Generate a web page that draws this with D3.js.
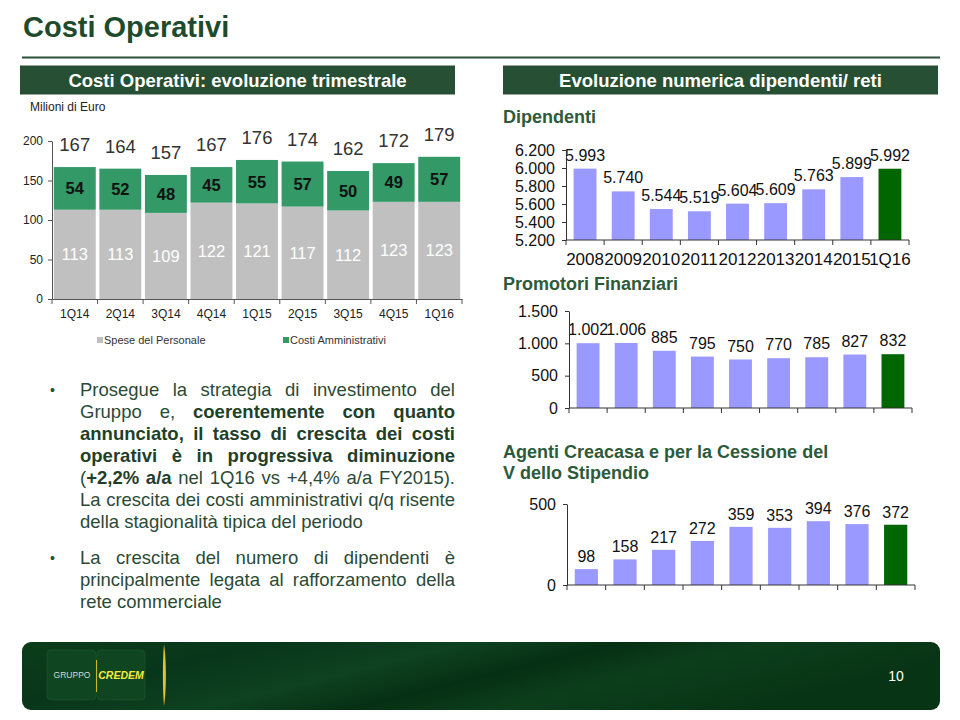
<!DOCTYPE html>
<html><head><meta charset="utf-8">
<script src="https://cdn.jsdelivr.net/npm/d3@7"></script>
<style>
body{margin:0;background:#fff}
svg{display:block;font-family:'Liberation Sans',Arial,Helvetica,sans-serif}
</style>
</head><body>
<svg id="c" width="960" height="720"></svg>
<script>
// ---------- DATA ----------
const quarters = ['1Q14','2Q14','3Q14','4Q14','1Q15','2Q15','3Q15','4Q15','1Q16'];
const spesePersonale = [113,113,109,122,121,117,112,123,123];
const costiAmministrativi = [54,52,48,45,55,57,50,49,57];
const totaliTrimestre = [167,164,157,167,176,174,162,172,179];
const leftTicks = [0,50,100,150,200];

const periodi = ['2008','2009','2010','2011','2012','2013','2014','2015','1Q16'];
const dipendenti = [5993,5740,5544,5519,5604,5609,5763,5899,5992];
const dipendentiTicks = [5200,5400,5600,5800,6000,6200];
const promotori = [1002,1006,885,795,750,770,785,827,832];
const promotoriTicks = [0,500,1000,1500];
const agenti = [98,158,217,272,359,353,394,376,372];
const agentiTicks = [0,500];

const bulletLines = [
  [['Prosegue la strategia di investimento del',0]],
  [['Gruppo e, ',0],['coerentemente con quanto',1]],
  [['annunciato, il tasso di crescita dei costi',1]],
  [['operativi è in progressiva diminuzione',1]],
  [['(',0],['+2,2% a/a',1],[' nel 1Q16 vs +4,4% a/a FY2015).',0]],
  [['La crescita dei costi amministrativi q/q risente',0]],
  [['della stagionalità tipica del periodo',0]]
];
const bulletLines2 = [
  [['La crescita del numero di dipendenti è',0]],
  [['principalmente legata al rafforzamento della',0]],
  [['rete commerciale',0]]
];

// ---------- SETUP ----------
const svg = d3.select('#c');
const fmt = d3.formatLocale({decimal:',',thousands:'.',grouping:[3],currency:['','']}).format(',d');
const DARK = '#264f33';
const TITLE = '#1f4b2c';

// Title
svg.append('text').attr('x',23).attr('y',37).attr('font-size',29).attr('font-weight','bold')
  .attr('fill',TITLE).text('Costi Operativi');
svg.append('line').attr('x1',22).attr('x2',940).attr('y1',57.5).attr('y2',57.5)
  .attr('stroke','#2a4f35').attr('stroke-width',2);

// Header bands
function band(x,w,label){
  svg.append('rect').attr('x',x).attr('y',65.5).attr('width',w).attr('height',29).attr('fill',DARK);
  svg.append('text').attr('x',x+w/2).attr('y',86.5).attr('text-anchor','middle')
    .attr('font-size',18.5).attr('font-weight','bold').attr('fill','#fff').text(label);
}
band(20,435,'Costi Operativi: evoluzione trimestrale');
band(503,435,'Evoluzione numerica dipendenti/ reti');

// ---------- LEFT STACKED CHART ----------
svg.append('text').attr('x',30).attr('y',111).attr('font-size',12).attr('fill','#222').text('Milioni di Euro');

const xL = d3.scaleBand().domain(quarters).range([52,462]).paddingInner(0.08).paddingOuter(0.04);
const yL = d3.scaleLinear().domain([0,200]).range([299,141]);
const gL = svg.append('g');

const stackData = quarters.map((q,i)=>({q, p:spesePersonale[i], a:costiAmministrativi[i], t:totaliTrimestre[i]}));
gL.selectAll('rect.p').data(stackData).join('rect').attr('class','p')
  .attr('x',d=>xL(d.q)).attr('width',xL.bandwidth())
  .attr('y',d=>yL(d.p)).attr('height',d=>yL(0)-yL(d.p)).attr('fill','#c0c0c0');
gL.selectAll('rect.a').data(stackData).join('rect').attr('class','a')
  .attr('x',d=>xL(d.q)).attr('width',xL.bandwidth())
  .attr('y',d=>yL(d.p+d.a)).attr('height',d=>yL(d.p)-yL(d.p+d.a)).attr('fill','#339966');

gL.selectAll('text.pl').data(stackData).join('text').attr('class','pl')
  .attr('x',d=>xL(d.q)+xL.bandwidth()/2).attr('y',d=>(yL(0)+yL(d.p))/2+6)
  .attr('text-anchor','middle').attr('font-size',16.5).attr('fill','#fff').text(d=>d.p);
gL.selectAll('text.al').data(stackData).join('text').attr('class','al')
  .attr('x',d=>xL(d.q)+xL.bandwidth()/2).attr('y',d=>(yL(d.p)+yL(d.p+d.a))/2+6)
  .attr('text-anchor','middle').attr('font-size',16.5).attr('font-weight','bold').attr('fill','#111').text(d=>d.a);
gL.selectAll('text.tl').data(stackData).join('text').attr('class','tl')
  .attr('x',d=>xL(d.q)+xL.bandwidth()/2).attr('y',d=>yL(d.p+d.a)-16)
  .attr('text-anchor','middle').attr('font-size',18.5).attr('fill','#333').text(d=>d.t);

// y axis
const axL = gL.append('g').attr('transform','translate(52,0)')
  .call(d3.axisLeft(yL).tickValues(leftTicks).tickSize(4).tickPadding(5).tickSizeOuter(0));
axL.selectAll('text').attr('font-size',12).attr('fill','#222').attr('font-family','inherit');
axL.selectAll('line,path').attr('stroke','#555');
// x axis
const axLB = gL.append('g').attr('transform','translate(0,299)')
  .call(d3.axisBottom(xL).tickSize(0).tickPadding(10).tickSizeOuter(0));
axLB.selectAll('text').attr('font-size',12).attr('fill','#222').attr('font-family','inherit');
axLB.select('path').attr('stroke','#555');
const bL = quarters.map(q=>xL(q)-xL.step()*0.04).concat([462]);
gL.selectAll('line.bt').data(bL).join('line').attr('class','bt')
  .attr('x1',d=>d).attr('x2',d=>d).attr('y1',299).attr('y2',304).attr('stroke','#555');

// legend
const leg = [['Spese del Personale','#c0c0c0',97],['Costi Amministrativi','#339966',283]];
leg.forEach(([t,c,x])=>{
  svg.append('rect').attr('x',x).attr('y',337).attr('width',6).attr('height',6).attr('fill',c);
  svg.append('text').attr('x',x+7).attr('y',344).attr('font-size',11).attr('fill','#333').text(t);
});

// ---------- RIGHT SMALL CHARTS ----------
function smallChart(o){
  const g = svg.append('g');
  const x = d3.scaleBand().domain(o.cats).range([o.x0,o.x1]).paddingInner(0.4).paddingOuter(0.2);
  const y = d3.scaleLinear().domain(o.domain).range([o.yb,o.yt]);
  const data = o.cats.map((c,i)=>({c,v:o.vals[i],last:i===o.cats.length-1}));
  g.selectAll('rect').data(data).join('rect')
    .attr('x',d=>x(d.c)).attr('width',x.bandwidth())
    .attr('y',d=>y(d.v)).attr('height',d=>y(o.domain[0])-y(d.v))
    .attr('fill',d=>d.last?'#006600':'#9999ff');
  g.selectAll('text.v').data(data).join('text').attr('class','v')
    .attr('x',d=>x(d.c)+x.bandwidth()/2).attr('y',d=>y(d.v)-o.lo)
    .attr('text-anchor','middle').attr('font-size',16).attr('fill','#111').text(d=>fmt(d.v));
  const ay = g.append('g').attr('transform',`translate(${o.x0},0)`)
    .call(d3.axisLeft(y).tickValues(o.ticks).tickFormat(fmt).tickSize(4).tickPadding(7).tickSizeOuter(0));
  ay.selectAll('text').attr('font-size',16).attr('fill','#111').attr('font-family','inherit');
  ay.selectAll('line,path').attr('stroke','#333');
  g.append('line').attr('x1',o.x0).attr('x2',o.x1).attr('y1',o.yb).attr('y2',o.yb).attr('stroke','#333');
  const b = o.cats.map(c=>x(c)-x.step()*0.2).concat([o.x1]);
  g.selectAll('line.bt').data(b).join('line').attr('class','bt')
    .attr('x1',d=>d).attr('x2',d=>d).attr('y1',o.yb).attr('y2',o.yb+5).attr('stroke','#333');
  if(o.showCats){
    g.selectAll('text.c').data(data).join('text').attr('class','c')
      .attr('x',d=>x(d.c)+x.bandwidth()/2).attr('y',o.yb+25)
      .attr('text-anchor','middle').attr('font-size',17).attr('fill','#111').text(d=>d.c);
  }
}
function subTitle(lines,x,y){
  lines.forEach((t,i)=>svg.append('text').attr('x',x).attr('y',y+i*21).attr('font-size',18)
    .attr('font-weight','bold').attr('fill','#2d5a3a').text(t));
}
subTitle(['Dipendenti'],503,123);
smallChart({cats:periodi,vals:dipendenti,x0:566,x1:909,yb:240,yt:150,domain:[5200,6200],ticks:dipendentiTicks,lo:8,showCats:true});
subTitle(['Promotori Finanziari'],503,290);
smallChart({cats:periodi,vals:promotori,x0:569,x1:912,yb:408,yt:311,domain:[0,1500],ticks:promotoriTicks,lo:8,showCats:false});
subTitle(['Agenti Creacasa e per la Cessione del','V dello Stipendio'],503,458);
smallChart({cats:periodi,vals:agenti,x0:567,x1:915,yb:585,yt:504,domain:[0,500],ticks:agentiTicks,lo:7,showCats:false});

// ---------- BULLET TEXT ----------
const TX0 = 80, TX1 = 455, FS = 18.5, TCOL = '#2b4a36', BCOL = '#1f4028';
const meas = svg.append('text').attr('font-size',FS).attr('visibility','hidden');
function wWidth(w,b){ meas.attr('font-weight',b?'bold':'normal').text(w); return meas.node().getComputedTextLength(); }
const spaceW = wWidth('a a',0)-wWidth('aa',0);
function drawPara(lines,y0){
  lines.forEach((parts,li)=>{
    const justify = li < lines.length-1;
    const words = [];
    let prevEndsSpace = true;
    parts.forEach(([t,b])=>{
      const toks = t.split(' ');
      toks.forEach((tk,k)=>{
        if(tk==='') return;
        const glue = (k===0 && !prevEndsSpace && words.length>0);
        if(glue){ words[words.length-1].segs.push([tk,b]); }
        else words.push({segs:[[tk,b]]});
      });
      prevEndsSpace = t[t.length-1]===' ';
    });
    words.forEach(w=>{ w.width = d3.sum(w.segs,s=>wWidth(s[0],s[1])); });
    const total = d3.sum(words,w=>w.width);
    const gap = justify && words.length>1 ? (TX1-TX0-total)/(words.length-1) : spaceW;
    let x = TX0;
    const y = y0 + li*22;
    words.forEach(w=>{
      const t = svg.append('text').attr('x',x).attr('y',y).attr('font-size',FS);
      w.segs.forEach(([s,b])=>t.append('tspan').attr('font-weight',b?'bold':'normal').attr('fill',b?BCOL:TCOL).text(s));
      x += w.width + gap;
    });
  });
  svg.append('text').attr('x',50).attr('y',y0-1).attr('font-size',14).attr('fill',TCOL).text('•');
}
drawPara(bulletLines,396);
drawPara(bulletLines2,564);
meas.remove();

// ---------- FOOTER ----------
const defs = svg.append('defs');
const gr = defs.append('linearGradient').attr('id','fg').attr('x1','0').attr('y1','0').attr('x2','1').attr('y2','0.3');
[[0,'#0b3d1a'],[0.25,'#08361a'],[0.45,'#0e4220'],[0.6,'#063013'],[0.75,'#0c3e1c'],[1,'#073414']]
  .forEach(([o,c])=>gr.append('stop').attr('offset',o).attr('stop-color',c));
svg.append('rect').attr('x',22).attr('y',642).attr('width',918).attr('height',68).attr('rx',9).attr('fill','url(#fg)');
svg.append('rect').attr('x',47).attr('y',650).attr('width',49).attr('height',50).attr('rx',4).attr('fill','#0f4521').attr('stroke','#1d5a2e').attr('stroke-width',0.6);
svg.append('rect').attr('x',97).attr('y',650).attr('width',48).attr('height',50).attr('rx',4).attr('fill','#0f4521').attr('stroke','#1d5a2e').attr('stroke-width',0.6);
svg.append('line').attr('x1',96.5).attr('x2',96.5).attr('y1',660).attr('y2',692).attr('stroke','#c9b82a').attr('stroke-width',1);
svg.append('text').attr('x',72).attr('y',678).attr('text-anchor','middle').attr('font-size',8.5).attr('fill','#d6dccf').text('GRUPPO');
svg.append('text').attr('x',121).attr('y',679).attr('text-anchor','middle').attr('font-size',10.5).attr('font-weight','bold').attr('font-style','italic').attr('fill','#f4ec3c').text('CREDEM');
svg.append('path').attr('d','M164,644 C166.5,660 166.5,690 164,706 C162.5,690 162.5,660 164,644 Z').attr('fill','#e0c23a');
svg.append('text').attr('x',896).attr('y',681).attr('text-anchor','middle').attr('font-size',14).attr('fill','#fff').text('10');
</script>
</body></html>
